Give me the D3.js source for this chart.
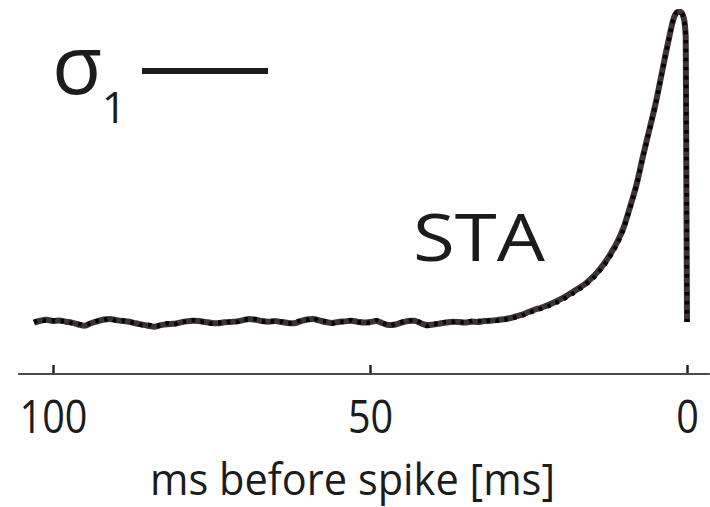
<!DOCTYPE html>
<html>
<head>
	<meta charset="utf-8">
	<title>STA</title>
	<script src="https://d3js.org/d3.v7.min.js"></script>
	<style>
		body { margin: 0; background: #fff; }
		text { font-family: "Open Sans", sans-serif; fill: #1c1c1c; }
	</style>
</head>
<body>
	<script>

			// time before the spike, ms
			var times = [103, 102, 101, 100, 99, 98, 97, 96, 95, 94,
						93, 92, 91, 90, 89, 88, 87, 86, 85, 84,
						83, 82, 81, 80, 79, 78, 77, 76, 75, 74,
						73, 72, 71, 70, 69, 68, 67, 66, 65, 64,
						63, 62, 61, 60, 59, 58, 57, 56, 55, 54,
						53, 52, 51, 50, 49, 48, 47, 46, 45, 44,
						43, 42, 41, 40, 39, 38, 37, 36, 35, 34,
						33, 32, 31, 30, 29, 28, 27, 26, 25, 24,
						23, 22, 21, 20, 19, 18, 17, 16, 15, 14,
						13, 12, 11, 10, 9, 8, 7, 6, 5, 4,
						3, 2, 1.5, 1, 0.5, 0.2, 0];

			// spike-triggered average (normalised)
			var sta = [-0.002, 0.004, 0.007, 0.003, 0.005, 0.001, -0.002, -0.008, -0.012, -0.004,
						0.002, 0.008, 0.010, 0.006, 0.003, 0.001, -0.004, -0.008, -0.012, -0.015,
						-0.010, -0.007, -0.006, -0.002, 0.002, 0.004, 0.003, 0.000, -0.003, -0.004,
						-0.001, 0.000, 0.002, 0.006, 0.010, 0.007, 0.003, 0.001, 0.003, 0.000,
						-0.003, -0.004, 0.002, 0.008, 0.010, 0.005, 0.000, -0.003, 0.000, 0.002,
						0.004, 0.001, -0.002, 0.000, 0.003, -0.004, -0.010, -0.008, -0.002, 0.003,
						0.004, -0.004, -0.010, -0.008, -0.005, -0.002, 0.001, 0.000, -0.002, 0.001,
						0.000, 0.003, 0.004, 0.006, 0.009, 0.012, 0.018, 0.024, 0.032, 0.040,
						0.046, 0.054, 0.063, 0.073, 0.084, 0.097, 0.110, 0.124, 0.142, 0.164,
						0.190, 0.222, 0.258, 0.305, 0.370, 0.440, 0.530, 0.615, 0.700, 0.800,
						0.900, 0.985, 1.000, 1.000, 0.980, 0.920, 0.000];

			// first eigenvector sigma_1, drawn dotted over the STA
			var sigma1 = [0.000, 0.006, 0.004, 0.005, 0.002, 0.003, -0.004, -0.006, -0.010, -0.002,
						0.004, 0.006, 0.011, 0.004, 0.005, -0.001, -0.002, -0.010, -0.009, -0.013,
						-0.011, -0.004, -0.008, 0.000, 0.001, 0.006, 0.001, 0.002, -0.005, -0.002,
						-0.003, 0.002, 0.000, 0.008, 0.008, 0.009, 0.001, 0.004, 0.001, 0.002,
						-0.005, -0.001, 0.004, 0.006, 0.013, 0.003, 0.002, -0.005, 0.002, 0.000,
						0.006, -0.001, 0.000, -0.003, 0.006, -0.002, -0.012, -0.006, 0.000, 0.005,
						0.006, -0.002, -0.013, -0.006, -0.007, 0.001, 0.000, 0.003, -0.004, 0.003,
						0.004, 0.000, 0.006, 0.004, 0.007, 0.010, 0.015, 0.021, 0.029, 0.036,
						0.043, 0.050, 0.059, 0.068, 0.080, 0.092, 0.105, 0.120, 0.138, 0.159,
						0.185, 0.216, 0.252, 0.300, 0.366, 0.437, 0.527, 0.612, 0.698, 0.798,
						0.898, 0.984, 1.000, 1.000, 0.980, 0.920, 0.000];

			var tickValues = [100, 50, 0];
			var axisExtent = [105.5, -3.6];

			var width = 710, height = 507;

			var x = d3.scaleLinear()
						.domain([100, 0])
						.range([53, 687]);

			var y = d3.scaleLinear()
						.domain([0, 1])
						.range([322, 12]);

			var svg = d3.select("body").append("svg")
							.attr("width", width)
							.attr("height", height);

			svg.append("rect")
				.attr("width", width)
				.attr("height", height)
				.attr("fill", "#fff");

			// axis
			var axisY = 374;
			var axis = d3.axisBottom(x)
						.tickValues(tickValues)
						.tickSizeInner(-9)
						.tickSizeOuter(0)
						.tickPadding(26)
						.tickFormat(d3.format("d"));

			var gx = svg.append("g")
						.attr("transform", "translate(0," + axisY + ")")
						.call(axis);

			gx.select(".domain").remove();
			gx.selectAll(".tick line")
				.attr("stroke", "#222")
				.attr("stroke-width", 2.5);
			gx.selectAll(".tick text")
				.attr("font-size", 46)
				.attr("font-family", "Open Sans, sans-serif")
				.attr("fill", "#1c1c1c")
				.attr("transform", "scale(0.86,1)");

			gx.append("line")
				.attr("x1", x(axisExtent[0]))
				.attr("x2", x(axisExtent[1]))
				.attr("stroke", "#4a4a4a")
				.attr("stroke-width", 2);

			svg.append("text")
				.attr("x", 150)
				.attr("y", 495)
				.attr("font-size", 43)
				.attr("textLength", 405)
				.attr("lengthAdjust", "spacingAndGlyphs")
				.text("ms before spike [ms]");

			// curves
			var points = function (vals) {
				return times.map(function (t, i) { return [t, vals[i]]; });
			};

			var line = d3.line()
						.x(function (d) { return x(d[0]); })
						.y(function (d) { return y(d[1]); })
						.curve(d3.curveMonotoneX);

			svg.append("path")
				.datum(points(sta))
				.attr("d", line)
				.attr("fill", "none")
				.attr("stroke", "#3a3436")
				.attr("stroke-width", 6)
				.attr("stroke-linejoin", "round")
				.attr("stroke-linecap", "butt");

			svg.append("path")
				.datum(points(sigma1))
				.attr("d", line)
				.attr("fill", "none")
				.attr("stroke", "#0a0000")
				.attr("stroke-width", 4.5)
				.attr("stroke-dasharray", "3.5,5.5");

			// labels
			svg.append("text")
				.attr("x", 413)
				.attr("y", 261)
				.attr("font-size", 66)
				.attr("textLength", 132)
				.attr("lengthAdjust", "spacingAndGlyphs")
				.text("STA");

			svg.append("text")
				.attr("x", 52)
				.attr("y", 94)
				.attr("font-size", 82)
				.text("σ");

			svg.append("text")
				.attr("x", 114)
				.attr("y", 123)
				.attr("font-size", 43)
				.attr("text-anchor", "middle")
				.text("1");

			svg.append("line")
				.attr("x1", 142)
				.attr("x2", 268)
				.attr("y1", 71)
				.attr("y2", 71)
				.attr("stroke", "#1c1c1c")
				.attr("stroke-width", 6);

	</script>
</body>
</html>
